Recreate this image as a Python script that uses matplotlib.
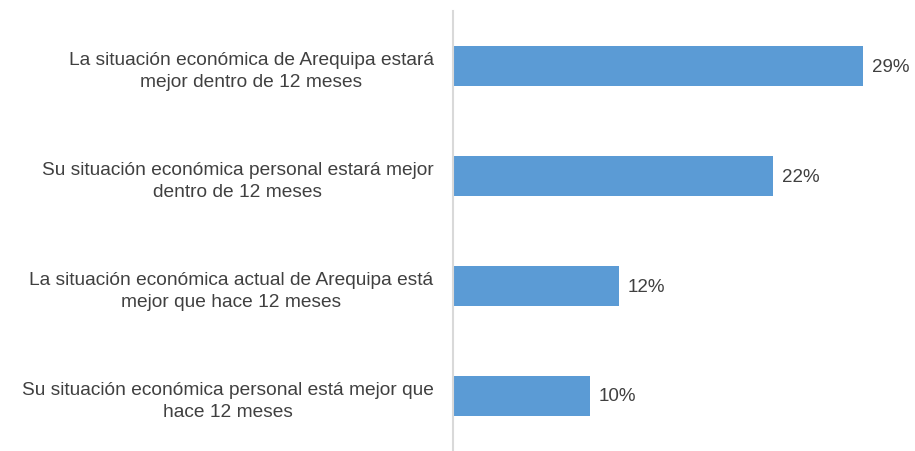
import matplotlib
matplotlib.use("Agg")
import matplotlib.pyplot as plt
import numpy as np

categories = [
    "La situación económica de Arequipa estará\nmejor dentro de 12 meses",
    "Su situación económica personal estará mejor\ndentro de 12 meses",
    "La situación económica actual de Arequipa está\nmejor que hace 12 meses",
    "Su situación económica personal está mejor que\nhace 12 meses",
]
values = [28.7, 22.4, 11.6, 9.6]
value_labels = ["29%", "22%", "12%", "10%"]

bar_color = "#5B9BD5"
text_color = "#404040"

plt.rcParams["font.family"] = ["Liberation Sans", "DejaVu Sans"]

fig = plt.figure(figsize=(9.15, 4.52), dpi=100)
ax = fig.add_axes([453 / 915, 0.0, 443 / 915, 440 / 452])

y = np.arange(len(categories))
bars = ax.barh(y, values, height=0.36, color=bar_color)

for bar, lab in zip(bars, value_labels):
    ax.text(bar.get_width() + 0.6, bar.get_y() + bar.get_height() / 2, lab,
            va="center", ha="left", fontsize=13.5, color=text_color)

ax.set_xlim(0, 31)
ax.set_ylim(len(categories) - 0.5, -0.5)
ax.set_yticks(y)
ax.set_yticklabels(categories, fontsize=13.8, color=text_color,
                   multialignment="center", linespacing=1.4)
ax.tick_params(axis="y", length=0, pad=14)
ax.set_xticks([])

for side in ["top", "right", "bottom"]:
    ax.spines[side].set_visible(False)
ax.spines["left"].set_color("#d9d9d9")
ax.spines["left"].set_linewidth(1.5)

fig.savefig("out.png", dpi=100)
